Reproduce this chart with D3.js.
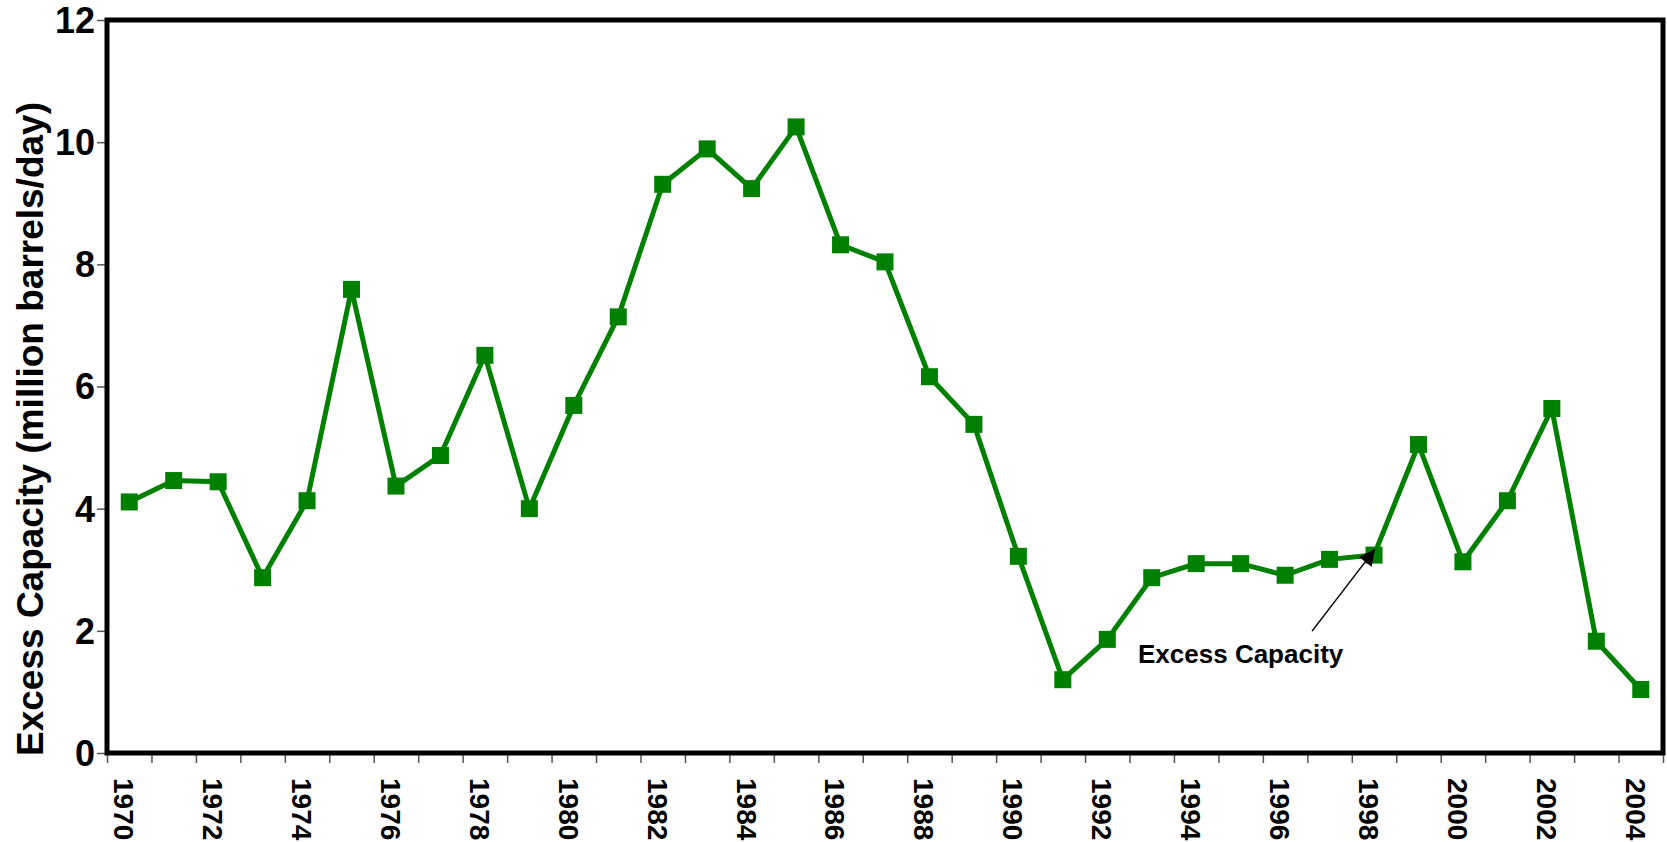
<!DOCTYPE html>
<html>
<head>
<meta charset="utf-8">
<script src="https://cdn.jsdelivr.net/npm/d3@7"></script>
<style>
  html, body { margin: 0; padding: 0; background: #fff; }
  svg { display: block; font-family: "Liberation Sans", Arial, sans-serif; font-weight: bold; }
</style>
</head>
<body>
<svg id="chart" width="1667" height="842"></svg>
<script>
// data
var years = d3.range(1970, 2005)
var capacity = [4.11, 4.46, 4.44, 2.87, 4.13, 7.59, 4.37, 4.87, 6.51, 4.00,
                5.69, 7.14, 9.31, 9.89, 9.24, 10.25, 8.32, 8.04, 6.16, 5.38,
                3.22, 1.20, 1.86, 2.87, 3.10, 3.10, 2.91, 3.17, 3.24, 5.05,
                3.13, 4.13, 5.64, 1.83, 1.04]
var yTicks = [0, 2, 4, 6, 8, 10, 12]
var xLabelYears = d3.range(1970, 2005, 2)
var yTitle = "Excess Capacity (million barrels/day)"
var noteText = "Excess Capacity"
var noteYear = 1998

var margin = {top: 20, right: 4, bottom: 89, left: 107}
var W = 1667, H = 842
var innerW = W - margin.left - margin.right
var innerH = H - margin.top - margin.bottom

var svg = d3.select("#chart")
var g = svg.append("g").attr("transform", "translate(" + margin.left + "," + margin.top + ")")

// year boundaries on a linear scale, points sit in the middle of each year
var x = d3.scaleLinear().domain([1970, 2005]).range([0, innerW])
var y = d3.scaleLinear().domain([0, 12]).range([innerH, 0])

// y axis ticks
var yAxis = g.append("g").call(d3.axisLeft(y).tickValues(yTicks).tickSize(10).tickFormat(""))
yAxis.select(".domain").remove()
yAxis.selectAll("line").attr("stroke", "#555").attr("stroke-width", 1.5)

g.selectAll(".ylab")
    .data(yTicks)
    .enter()
    .append("text")
    .attr("class", "ylab")
    .attr("x", -12)
    .attr("y", function (d) { return y(d) })
    .attr("dy", "0.36em")
    .attr("text-anchor", "end")
    .attr("font-size", 36)
    .text(function (d) { return d })

// x axis ticks at the year boundaries
var xAxis = g.append("g")
    .attr("transform", "translate(0," + innerH + ")")
    .call(d3.axisBottom(x).tickValues(d3.range(1970, 2006)).tickSize(10).tickFormat(""))
xAxis.select(".domain").remove()
xAxis.selectAll("line").attr("stroke", "#555").attr("stroke-width", 1.5)

g.selectAll(".xlab")
    .data(xLabelYears)
    .enter()
    .append("text")
    .attr("class", "xlab")
    .attr("transform", function (d) {
        return "translate(" + (x(d + 0.5) - 5) + "," + (innerH + 25) + ") rotate(90)"
    })
    .attr("dy", "0.36em")
    .attr("font-size", 28)
    .text(function (d) { return d })

// frame
g.append("rect")
    .attr("x", 0).attr("y", 0)
    .attr("width", innerW).attr("height", innerH)
    .attr("fill", "none")
    .attr("stroke", "#000")
    .attr("stroke-width", 5)

// y title
svg.append("text")
    .attr("transform", "translate(43,429) rotate(-90)")
    .attr("text-anchor", "middle")
    .attr("font-size", 37)
    .text(yTitle)

// line + square markers
var pts = years.map(function (yr, i) { return {year: yr, value: capacity[i]} })

var line = d3.line()
    .x(function (d) { return x(d.year + 0.5) })
    .y(function (d) { return y(d.value) })

g.append("path")
    .datum(pts)
    .attr("d", line)
    .attr("fill", "none")
    .attr("stroke", "#008000")
    .attr("stroke-width", 5)
    .attr("stroke-linejoin", "round")

var ms = 17
g.selectAll(".mark")
    .data(pts)
    .enter()
    .append("rect")
    .attr("class", "mark")
    .attr("x", function (d) { return x(d.year + 0.5) - ms / 2 })
    .attr("y", function (d) { return y(d.value) - ms / 2 })
    .attr("width", ms)
    .attr("height", ms)
    .attr("fill", "#008000")

// annotation with arrow
svg.append("defs").append("marker")
    .attr("id", "arrow")
    .attr("viewBox", "0 0 10 10")
    .attr("refX", 10).attr("refY", 5)
    .attr("markerWidth", 28).attr("markerHeight", 16)
    .attr("markerUnits", "userSpaceOnUse")
    .attr("orient", "auto")
    .append("path")
    .attr("d", "M0,0 L10,5 L0,10 Z")
    .attr("fill", "#000")

var tipX = x(noteYear + 0.5) + 1
var tipY = y(capacity[years.indexOf(noteYear)]) - 6
g.append("line")
    .attr("x1", tipX - 63).attr("y1", tipY + 82)
    .attr("x2", tipX).attr("y2", tipY)
    .attr("stroke", "#000")
    .attr("stroke-width", 1.5)
    .attr("marker-end", "url(#arrow)")

g.append("text")
    .attr("x", tipX - 237)
    .attr("y", tipY + 114)
    .attr("font-size", 26)
    .text(noteText)
</script>
</body>
</html>
